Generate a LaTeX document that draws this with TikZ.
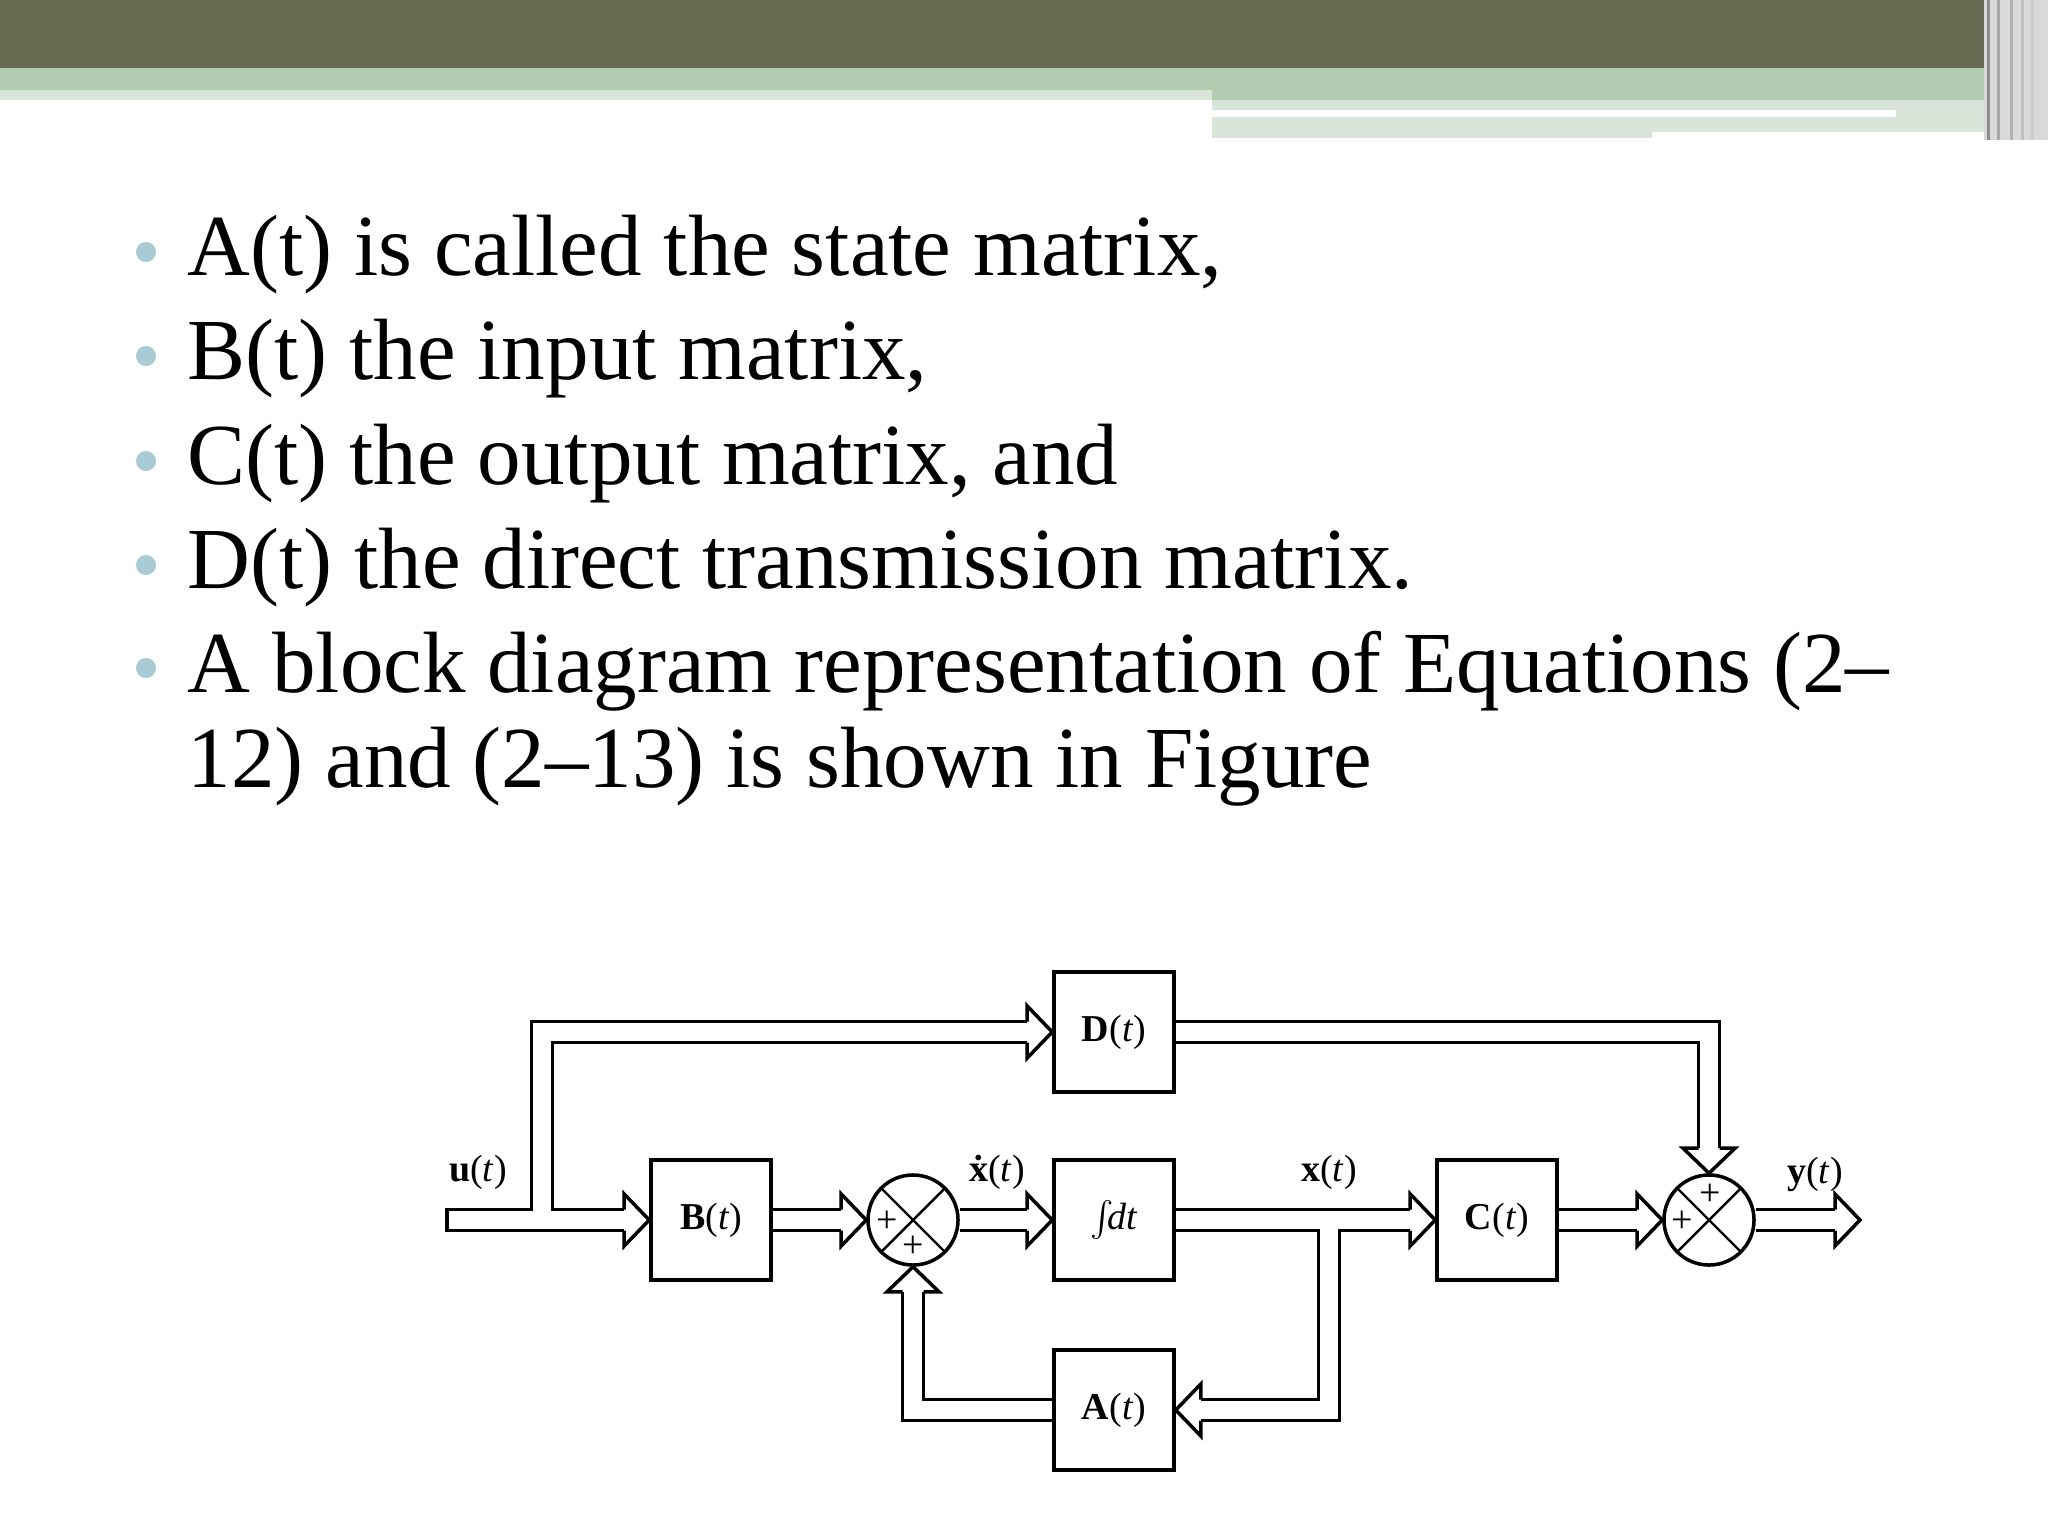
\documentclass[tikz,border=0pt]{standalone}
\usepackage{fontspec}
\setmainfont{Liberation Serif}
\usetikzlibrary{calc}

\definecolor{bandDark}{HTML}{676B52}
\definecolor{bandGreen}{HTML}{B3CDB3}
\definecolor{bandPale}{HTML}{D9E5D9}
\definecolor{bulletBlue}{HTML}{A8CBD5}

\newcommand\lblfont{\fontsize{10.8pt}{13pt}\selectfont}
\newcommand\itemfont{\fontsize{24.75pt}{30pt}\selectfont}

\tikzset{
  blk/.style={draw, line width=1pt, fill=white, minimum size=1.2cm, inner sep=0pt, font=\lblfont},
  sumj/.style={draw, circle, line width=1pt, fill=white, minimum size=0.9cm, inner sep=0pt,
    path picture={\draw[line width=0.7pt] (path picture bounding box.north west) -- (path picture bounding box.south east)
      (path picture bounding box.north east) -- (path picture bounding box.south west);}},
  dbl/.style={line width=1pt, double, double distance=0.175cm},
  openhead/.pic={\filldraw[fill=white, line width=1pt] (-25,10.5) -- (-25,26) -- (0,0) -- (-25,-26) -- (-25,-10.5);},
  item/.style={anchor=base west, inner sep=0pt, font=\itemfont},
  bul/.style={circle, fill=bulletBlue, minimum size=0.2cm, inner sep=0pt},
  lbl/.style={inner sep=0pt, font=\lblfont}
}

\begin{document}
\begin{tikzpicture}[x=0.01cm, y=-0.01cm]
    \useasboundingbox (0,0) rectangle (2048,1536);
    \fill[white] (0,0) rectangle (2048,1536);

    % title bar
    \fill[bandDark] (0,0) rectangle (1984,68);
    \fill[bandGreen] (0,68) rectangle (1984,90);
    \fill[bandPale] (0,90) rectangle (1212,100);
    \fill[bandGreen] (1212,90) rectangle (1984,100);
    \fill[bandPale] (1212,100) rectangle (1984,138);
    \fill[white] (1212,110) rectangle (1896,117);
    \fill[white] (1652,132) rectangle (1984,138);
    \fill[black!15] (1984,0) rectangle (2048,140);
    \foreach \xs/\c in {1987/black!45, 1997/black!35, 2010/black!30, 2021/black!25, 2031/black!20, 2043/black!15}
        \fill[\c] (\xs,0) rectangle ++(3,140);

    % bullet list
    \node[item] (l1) at (187,275) {A(t) is called the state matrix,};
    \node[item] (l2) at (187,379) {B(t) the input matrix,};
    \node[item] (l3) at (187,484) {C(t) the output matrix, and};
    \node[item] (l4) at (187,588) {D(t) the direct transmission matrix.};
    \node[item] (l5) at (187,692) {A block diagram representation of Equations (2–};
    \node[item] (l6) at (187,787) {12) and (2–13) is shown in Figure};
    \node[bul] (b1) at (146,252) {};
    \node[bul] (b2) at (146,356) {};
    \node[bul] (b3) at (146,461) {};
    \node[bul] (b4) at (146,565) {};
    \node[bul] (b5) at (146,668) {};

    % blocks
    \node[blk] (B) at (711,1220) {\textbf{B}(\textit{t})};
    \node[blk] (int) at (1114,1220) {$\int$\kern-2pt\textit{dt}};
    \node[blk] (D) at (1114,1032) {\textbf{D}(\textit{t})};
    \node[blk] (A) at (1114,1410) {\textbf{A}(\textit{t})};
    \node[blk] (C) at (1497,1220) {\textbf{C}(\textit{t})};
    \node[sumj] (s1) at (913,1220) {};
    \node[sumj] (s2) at (1709,1220) {};
    \coordinate (uin) at (447,1220);
    \coordinate (yout) at (1860,1220);
    \coordinate (tapU) at (542,1220);
    \coordinate (tapX) at (1329,1220);

    % signs
    \node[lbl] (p1) at ($(s1)+(-26,2)$) {+};
    \node[lbl] (p2) at ($(s1)+(0,27)$) {+};
    \node[lbl] (p3) at ($(s2)+(1,-25)$) {+};
    \node[lbl] (p4) at ($(s2)+(-27,2)$) {+};

    % signal names
    \node[lbl] (nu) at (478,1172) {\textbf{u}(\textit{t})};
    \node[lbl] (nxd) at (997,1172) {\textbf{\.x}(\textit{t})};
    \node[lbl] (nx) at (1329,1172) {\textbf{x}(\textit{t})};
    \node[lbl] (ny) at (1815,1174) {\textbf{y}(\textit{t})};

    % double line connectors
    \draw[dbl] ([xshift=-0.2cm]D.west) -| (tapU) (uin) -- ([xshift=-0.2cm]B.west);
    \draw[line width=1pt] ([yshift=0.1225cm]uin) -- ([yshift=-0.1225cm]uin);
    \draw[dbl, shorten >=0.2cm] (B.east) -- (s1.west);
    \draw[dbl, shorten >=0.2cm] (s1.east) -- (int.west);
    \draw[dbl] ([xshift=0.2cm]A.east) -| (tapX) (int.east) -- ([xshift=-0.2cm]C.west);
    \draw[dbl, shorten >=0.2cm] (C.east) -- (s2.west);
    \draw[dbl, shorten >=0.2cm] (s2.east) -- (yout);
    \draw[dbl, shorten >=0.2cm] (D.east) -| (s2.north);
    \draw[dbl, shorten >=0.2cm] (A.west) -| (s1.south);

    % arrow heads
    \pic at (B.west) {openhead};
    \pic at (s1.west) {openhead};
    \pic at (int.west) {openhead};
    \pic at (D.west) {openhead};
    \pic at (C.west) {openhead};
    \pic at (s2.west) {openhead};
    \pic at (yout) {openhead};
    \pic[rotate=-90] at (s2.north) {openhead};
    \pic[rotate=90] at (s1.south) {openhead};
    \pic[rotate=180] at (A.east) {openhead};
\end{tikzpicture}
\end{document}
